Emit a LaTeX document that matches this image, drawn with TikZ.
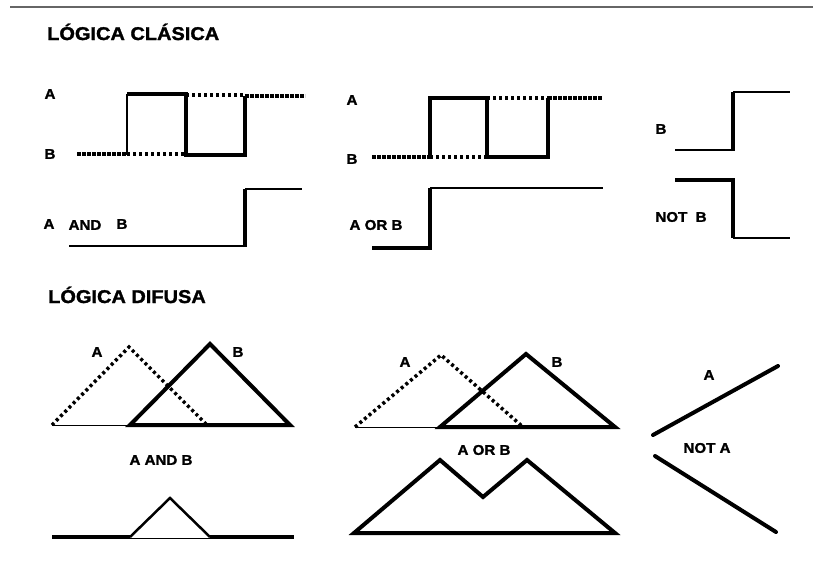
\documentclass[tikz,border=0pt]{standalone}
\usepackage{fontspec}
\setmainfont{Liberation Sans}[FakeStretch=1.08,BoldFeatures={FakeBold=1.5}]
\begin{document}
\begin{tikzpicture}[x=1pt,y=-1pt,line join=miter,
  thk/.style={line width=4pt},
  med/.style={line width=2.5pt},
  thn/.style={line width=1pt},
  dots/.style={line width=3.5pt,dash pattern=on 3pt off 3pt},
  dense/.style={line width=3.5pt,dash pattern=on 4pt off 1pt},
  lbl/.style={font=\fontsize{14}{14}\selectfont\bfseries,inner sep=0pt},
  ttl/.style={font=\fontsize{18.5}{18.5}\selectfont\bfseries,inner sep=0pt,anchor=base west}]
\useasboundingbox (0,0) rectangle (813,562);
\draw[line width=2pt,black!60] (10,7) -- (813,7);
% titles
\node[ttl] (t1) at (47,40) {LÓGICA CLÁSICA};
\node[ttl] (t2) at (48,303) {LÓGICA DIFUSA};
% ---- classical left
\node[lbl] (la1) at (50,94) {A};
\node[lbl] (lb1) at (50,154) {B};
\draw[dense] (77,154) -- (127,154);
\draw[dots] (127,154) -- (186,154);
\draw[dots] (186,95) -- (245,95);
\draw[dense] (245,96) -- (305,96);
\draw[med] (127,155) -- (127,94);
\draw[thk] (127,94) -- (186,94) -- (186,155) -- (245,155) -- (245,96);
\node[lbl] (and1) at (49,224) {A};
\node[lbl] (and2) at (85,225) {AND};
\node[lbl] (and3) at (122,224) {B};
\draw[med] (69,246) -- (245,246);
\draw[thk] (245,247) -- (245,189);
\draw[med] (245,189) -- (302,189);
% ---- classical middle
\node[lbl] (la2) at (352,100) {A};
\node[lbl] (lb2) at (352,159) {B};
\draw[dense] (372,157) -- (430,157);
\draw[dots] (430,157) -- (487,157);
\draw[dots] (487,98) -- (548,98);
\draw[dense] (548,98) -- (602,98);
\draw[thk] (430,157) -- (430,98) -- (487,98) -- (487,157) -- (548,157) -- (548,98);
\node[lbl] (or1) at (376,225) {A OR B};
\draw[thk] (372,248) -- (430,248) -- (430,188);
\draw[med] (430,188) -- (603,188);
% ---- classical right
\node[lbl] (lb3) at (661,129) {B};
\draw[med] (675,150) -- (733,150);
\draw[thk] (733,151) -- (733,92);
\draw[med] (733,92) -- (790,92);
\node[lbl] (notb) at (681,217) {NOT\ \ B};
\draw[thk] (675,180) -- (733,180) -- (733,238);
\draw[med] (733,238) -- (790,238);
% ---- fuzzy left
\node[lbl] (fa1) at (97,352) {A};
\node[lbl] (fb1) at (238,352) {B};
\draw[thn] (52,425) -- (130,425);
\draw[dots] (52,425) -- (129,347) -- (206,424);
\draw[thk] (130,425) -- (210,344) -- (290,425) -- cycle;
\node[lbl] (fand) at (161,460) {A AND B};
\draw[thk] (52,537) -- (130,537);
\draw[med] (130,537) -- (170,498) -- (210,537);
\draw[thn] (130,538) -- (210,538);
\draw[thk] (210,537) -- (294,537);
% ---- fuzzy middle
\node[lbl] (fa2) at (405,362) {A};
\node[lbl] (fb2) at (557,362) {B};
\draw[thn] (355,427) -- (440,427);
\draw[dots] (355,427) -- (441,355) -- (523,427);
\draw[thk] (440,427) -- (526,354) -- (615,427) -- cycle;
\node[lbl] (for) at (484,450) {A OR B};
\draw[thk] (354,533) -- (440,460) -- (483,497) -- (527,460) -- (615,533) -- cycle;
% ---- fuzzy right
\node[lbl] (fa3) at (709,375) {A};
\node[lbl] (fnota) at (707,448) {NOT A};
\draw[thk,line cap=round] (653,435) -- (778,366);
\draw[thk,line cap=round] (655,456) -- (776,532);
\end{tikzpicture}
\end{document}
